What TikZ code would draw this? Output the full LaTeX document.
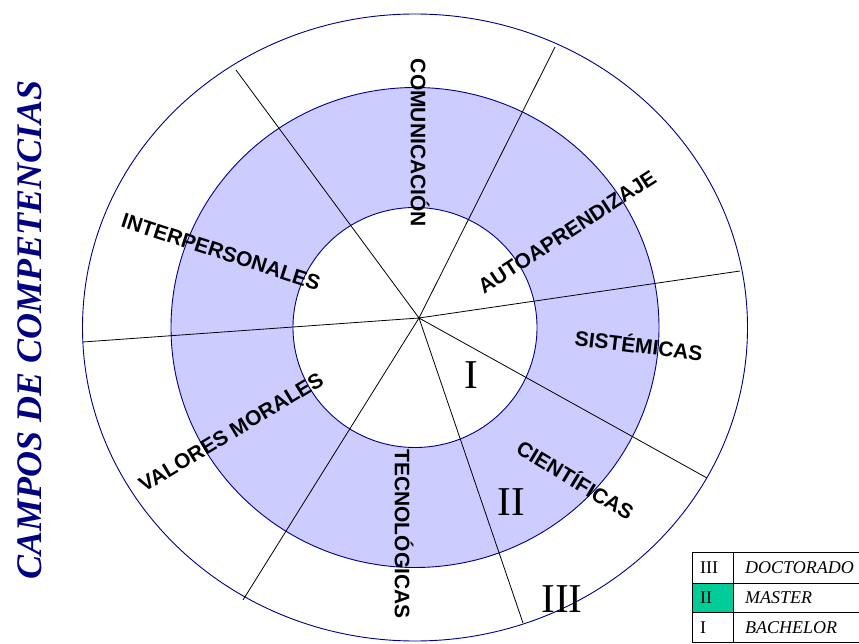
\documentclass[tikz,border=0pt]{standalone}
\usepackage{fontspec}
\setmainfont{Liberation Serif}
\newfontfamily\arialfont{Liberation Sans}
\definecolor{navy}{RGB}{0,0,128}
\definecolor{ringblue}{RGB}{204,204,255}
\definecolor{mastergreen}{RGB}{0,204,153}

\begin{document}
\begin{tikzpicture}[x=1pt,y=1pt,
    field/.style={font=\arialfont\bfseries\fontsize{21}{24}\selectfont,inner sep=0pt},
    level/.style={font=\fontsize{41}{48}\selectfont,inner sep=0pt},
    cell/.style={font=\fontsize{18}{20}\selectfont,anchor=west,inner sep=0pt},
    rim/.style={draw=navy,line width=0.9pt}]
    \useasboundingbox (0,0) rectangle (859,643);

    \draw[rim, fill=white] (415,315.5) ellipse [x radius=332.5, y radius=313.5];
    \draw[rim, fill=ringblue] (415,315.5) ellipse [x radius=244, y radius=240];
    \draw[rim, fill=white] (415,315.5) ellipse [x radius=122, y radius=120];

    \coordinate (hub) at (419,325);
    \coordinate (s1) at (236,573);
    \coordinate (s2) at (555,596);
    \coordinate (s3) at (740,372);
    \coordinate (s4) at (707,165);
    \coordinate (s5) at (523,20);
    \coordinate (s6) at (243,43);
    \coordinate (s7) at (83,301);
    \foreach \s in {s1,s2,s3,s4,s5,s6,s7}
        \draw[line width=0.8pt] (hub) -- (\s);

    \node[field, rotate=-90] (com) at (420,500) {COMUNICACIÓN};
    \node[field, rotate=-18] (inter) at (221,391) {INTERPERSONALES};
    \node[field, rotate=33] (auto) at (567,411) {AUTOAPRENDIZAJE};
    \node[field, rotate=-7] (sis) at (639,299) {SISTÉMICAS};
    \node[field, rotate=-31] (cien) at (576,164) {CIENTÍFICAS};
    \node[field, rotate=-90] (tec) at (404,109) {TECNOLÓGICAS};
    \node[field, rotate=31] (val) at (231,211) {VALORES MORALES};

    \node[level] (l1) at (471,268) {I};
    \node[level] (l2) at (511,141) {II};
    \node[level] (l3) at (562,44) {III};

    \node[rotate=90, text=navy, inner sep=0pt,
          font=\bfseries\itshape\fontsize{36}{40}\selectfont] (title) at (30,313) {CAMPOS DE COMPETENCIAS};

    \fill[mastergreen] (692,31) rectangle (733,60);
    \draw[line width=0.8pt] (692,91) -- (859,91) (692,60) -- (859,60) (692,31) -- (859,31) (692,1) -- (859,1)
        (692,1) -- (692,91) (733,1) -- (733,91);
    \node[cell] (d3) at (700,75.5) {III};
    \node[cell] (d2) at (700,45.5) {II};
    \node[cell] (d1) at (700,15) {I};
    \node[cell] (doc) at (745,75.5) {\itshape DOCTORADO};
    \node[cell] (mas) at (745,45.5) {\itshape MASTER};
    \node[cell] (bac) at (745,15) {\itshape BACHELOR};
\end{tikzpicture}
\end{document}
